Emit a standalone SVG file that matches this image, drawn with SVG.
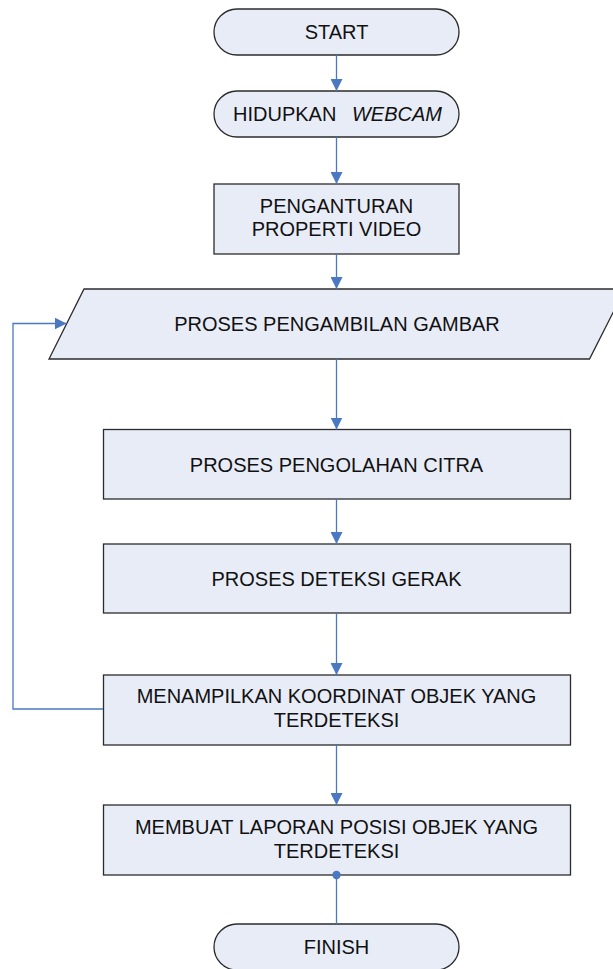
<svg xmlns="http://www.w3.org/2000/svg" width="613" height="969" viewBox="0 0 613 969">
<defs>
<style>
.n{fill:#E8ECF7;stroke:#2B2B2B;stroke-width:1.3}
.t{font-family:"Liberation Sans",Arial,sans-serif;font-size:20px;fill:#111;text-anchor:middle}
.c{fill:none;stroke:#4A78C2;stroke-width:1.3}
</style>
<marker id="ah" viewBox="0 0 12 12" refX="12" refY="6" markerWidth="12" markerHeight="12" markerUnits="userSpaceOnUse" orient="auto">
<path d="M0,0 L12,6 L0,12 Z" fill="#4A78C2"/>
</marker>
</defs>
<rect width="613" height="969" fill="#fff"/>
<g id="start">
<rect class="n" x="214" y="9" width="245" height="46" rx="23" ry="23"/>
<text class="t" x="336.5" y="39">START</text>
</g>
<g id="webcam">
<rect class="n" x="214" y="91" width="245" height="46" rx="23" ry="23"/>
<text class="t" x="337.5" y="121">HIDUPKAN <tspan dx="10" font-style="italic">WEBCAM</tspan></text>
</g>
<g id="properti">
<rect class="n" x="214" y="184" width="245" height="70"/>
<text class="t" x="336.5" y="213">PENGANTURAN</text>
<text class="t" x="336.5" y="236">PROPERTI VIDEO</text>
</g>
<g id="pengambilan">
<polygon class="n" points="84,289 625,289 589.5,359 49,359"/>
<text class="t" x="337" y="331">PROSES PENGAMBILAN GAMBAR</text>
</g>
<g id="pengolahan">
<rect class="n" x="103.5" y="429.5" width="467" height="69.5"/>
<text class="t" x="336.5" y="471.5">PROSES PENGOLAHAN CITRA</text>
</g>
<g id="deteksi">
<rect class="n" x="103.5" y="544" width="467" height="69"/>
<text class="t" x="336.5" y="585.5">PROSES DETEKSI GERAK</text>
</g>
<g id="koordinat">
<rect class="n" x="103.5" y="675" width="467" height="70"/>
<text class="t" x="336.5" y="703">MENAMPILKAN KOORDINAT OBJEK YANG</text>
<text class="t" x="336.5" y="726.5">TERDETEKSI</text>
</g>
<g id="laporan">
<rect class="n" x="103.5" y="805" width="467" height="70"/>
<text class="t" x="336.5" y="834">MEMBUAT LAPORAN POSISI OBJEK YANG</text>
<text class="t" x="336.5" y="857.5">TERDETEKSI</text>
</g>
<g id="finish">
<rect class="n" x="214" y="924" width="245" height="46" rx="23" ry="23"/>
<text class="t" x="336.5" y="954">FINISH</text>
</g>
<g id="connectors">
<line class="c" x1="336.5" y1="55" x2="336.5" y2="91" marker-end="url(#ah)"/>
<line class="c" x1="336.5" y1="137" x2="336.5" y2="184" marker-end="url(#ah)"/>
<line class="c" x1="336.5" y1="254" x2="336.5" y2="289" marker-end="url(#ah)"/>
<line class="c" x1="336.5" y1="359" x2="336.5" y2="429.5" marker-end="url(#ah)"/>
<line class="c" x1="336.5" y1="499" x2="336.5" y2="544" marker-end="url(#ah)"/>
<line class="c" x1="336.5" y1="613" x2="336.5" y2="675" marker-end="url(#ah)"/>
<line class="c" x1="336.5" y1="745" x2="336.5" y2="805" marker-end="url(#ah)"/>
<polyline class="c" points="103,709 13,709 13,323.5 66.5,323.5" marker-end="url(#ah)"/>
<line class="c" x1="336.5" y1="875" x2="336.5" y2="924"/>
<circle cx="336.5" cy="875" r="4.2" fill="#4A78C2"/>
</g>
</svg>
